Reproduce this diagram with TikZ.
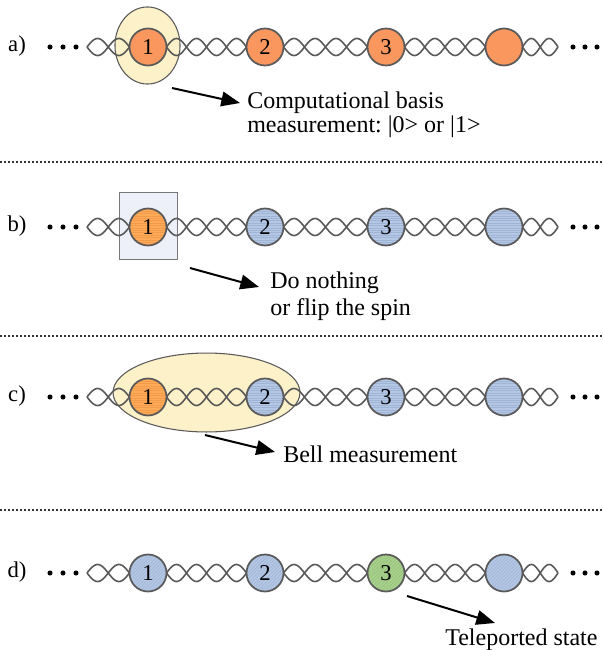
\documentclass[tikz,border=0pt]{standalone}
\usepackage{fontspec}
\setmainfont{Liberation Serif}
\usetikzlibrary{arrows.meta}
\frenchspacing

\definecolor{edge}{HTML}{595959}
\definecolor{orangeA}{HTML}{F9975F}
\definecolor{orangeB}{HTML}{FFAA57}
\definecolor{orangeBs}{HTML}{F29B4C}
\definecolor{qblue}{HTML}{B4C7E4}
\definecolor{qblues}{HTML}{A0B4D6}
\definecolor{qgreen}{HTML}{A9D18E}
\definecolor{qgreens}{HTML}{95C078}
\definecolor{measfill}{HTML}{FCF1C9}
\definecolor{boxfill}{HTML}{EDF0F8}
\definecolor{boxedge}{HTML}{777777}
\definecolor{sepcol}{HTML}{333333}

\begin{document}
\begin{tikzpicture}[x=0.75pt,y=-0.75pt,
  strand/.style={draw=edge, line width=1.2pt},
  ball/.style={circle, draw=edge, line width=1.3pt, minimum size=27.75pt,
    inner sep=0pt, font=\fontsize{17}{17}\selectfont},
  hstripes/.style={path picture={
    \foreach \k in {-15,-13.2,...,15}
      \draw[line width=0.4pt,#1] ([shift={(-15pt,{\k pt})}]path picture bounding box.center) -- ++(30pt,0pt);}},
  dstripes/.style={path picture={
    \foreach \k in {-36,-33.4,...,6}
      \draw[line width=0.4pt,#1] ([shift={({\k pt},-15pt)}]path picture bounding box.center) -- ++(30pt,30pt);}},
  rowlabel/.style={font=\fontsize{17}{17}\selectfont, inner sep=0pt},
  note/.style={font=\fontsize{18}{18}\selectfont, inner sep=0pt, align=left},
  pointer/.style={draw=black, line width=1.5pt, -{Triangle[length=14pt,width=11pt]}},
  sepline/.style={draw=sepcol, line width=1.4pt, dash pattern=on 1.4pt off 1.6pt},
  meas/.style={fill=measfill, draw=edge, line width=0.8pt},
]
\useasboundingbox (0,0) rectangle (603,650);

% separators between the four panels
\draw[sepline] (0,162) -- (603,162);
\draw[sepline] (0,336) -- (603,336);
\draw[sepline] (0,510) -- (603,510);

% measurement regions (behind the chains)
\filldraw[meas] (147.5,45.5) ellipse [x radius=24.4pt, y radius=28.9pt];
\filldraw[fill=boxfill, draw=boxedge, line width=0.7pt] (119,192) rectangle (177,259);
\filldraw[meas] (206.5,392.5) ellipse [x radius=70.1pt, y radius=29.6pt];

% twisted double strands linking the spins
\foreach \yc in {47,227,397,573}{
  \foreach \a/\b/\n in {87/129.5/2, 166.5/246.5/4, 283.5/367.5/4, 404.5/485.5/4, 522.5/558/2}{
    \pgfmathsetmacro{\fr}{180*\n/(\b-\a)}
    \draw[strand] plot[domain=\a:\b, samples=70] (\x, {\yc + 8.5*sin(\fr*(\x-\a))});
    \draw[strand] plot[domain=\a:\b, samples=70] (\x, {\yc - 8.5*sin(\fr*(\x-\a))});
  }
  % ellipsis dots at both ends
  \foreach \dx in {50,63,76,573,585,597}
    \fill (\dx,\yc) circle [radius=1.9pt];
}

% row labels
\node[rowlabel] (la) at (17,46) {a)};
\node[rowlabel] (lb) at (17,226) {b)};
\node[rowlabel] (lc) at (17,396) {c)};
\node[rowlabel] (ld) at (17,572) {d)};

% a) all spins before the measurement
\node[ball, fill=orangeA] (a1) at (148,47) {1};
\node[ball, fill=orangeA] (a2) at (265,47) {2};
\node[ball, fill=orangeA] (a3) at (386,47) {3};
\node[ball, fill=orangeA] (a4) at (504,47) {};

% b) spin 1 measured, the rest projected
\node[ball, fill=orangeB, hstripes=orangeBs] (b1) at (148,227) {1};
\node[ball, fill=qblue, hstripes=qblues] (b2) at (265,227) {2};
\node[ball, fill=qblue, hstripes=qblues] (b3) at (386,227) {3};
\node[ball, fill=qblue, hstripes=qblues] (b4) at (504,227) {};

% c) Bell measurement on spins 1 and 2
\node[ball, fill=orangeB, hstripes=orangeBs] (c1) at (148,397) {1};
\node[ball, fill=qblue, hstripes=qblues] (c2) at (265,397) {2};
\node[ball, fill=qblue, hstripes=qblues] (c3) at (386,397) {3};
\node[ball, fill=qblue, hstripes=qblues] (c4) at (504,397) {};

% d) state arrives on spin 3
\node[ball, fill=qblue, dstripes=qblues] (d1) at (148,573) {1};
\node[ball, fill=qblue, dstripes=qblues] (d2) at (265,573) {2};
\node[ball, fill=qgreen, dstripes=qgreens] (d3) at (386,573) {3};
\node[ball, fill=qblue, dstripes=qblues] (d4) at (504,573) {};

% annotations
\node[note, anchor=north west] (ta) at (247,91.6) {Computational basis\\measurement: |0> or |1>};
\node[note, font=\fontsize{18}{20}\selectfont, anchor=north west] (tb) at (270,272) {Do nothing\\or flip the spin};
\node[note, anchor=base west] (tc) at (283,462) {Bell measurement};
\node[note, anchor=base west] (td) at (445,645) {Teleported state};

\coordinate (pa0) at (172,88);  \coordinate (pa1) at (240,103);
\coordinate (pb0) at (190,268); \coordinate (pb1) at (259,287);
\coordinate (pc0) at (205,435); \coordinate (pc1) at (275,452);
\coordinate (pd0) at (407,596); \coordinate (pd1) at (495,623);
\draw[pointer] (pa0) -- (pa1);
\draw[pointer] (pb0) -- (pb1);
\draw[pointer] (pc0) -- (pc1);
\draw[pointer] (pd0) -- (pd1);
\end{tikzpicture}
\end{document}
